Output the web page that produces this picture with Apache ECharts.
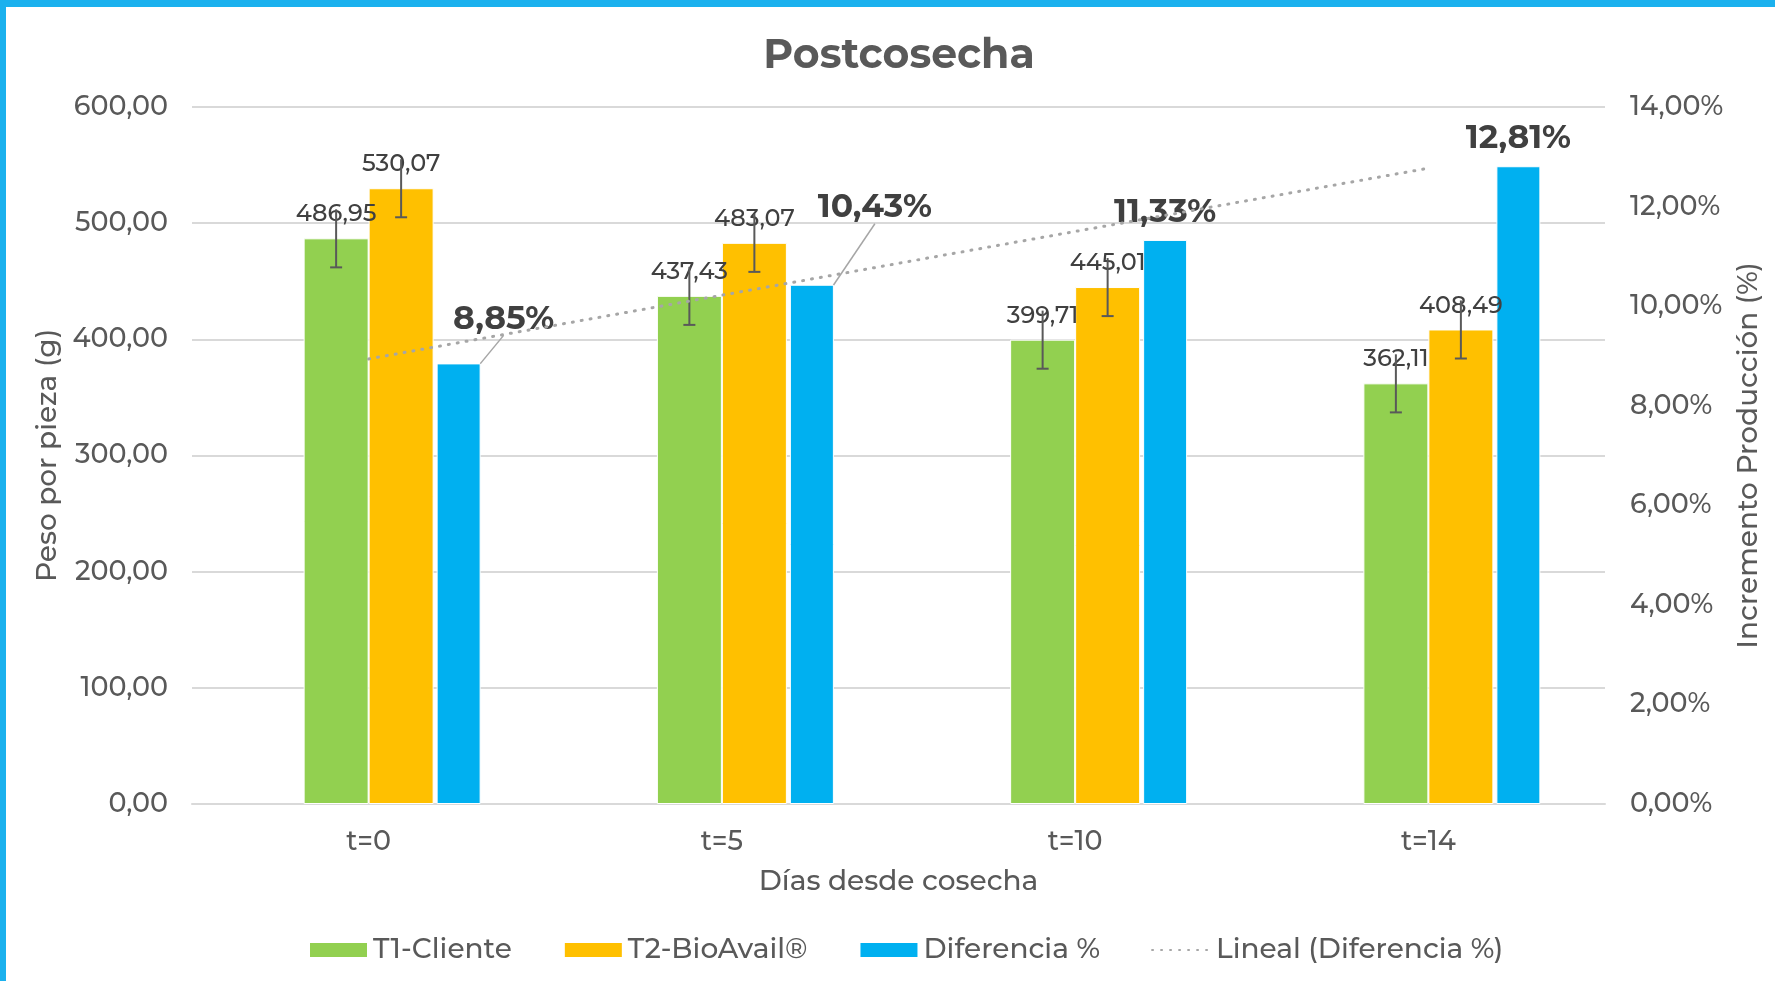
<!DOCTYPE html>
<html>
<head>
<meta charset="utf-8">
<title>Postcosecha</title>
<script src="https://cdn.jsdelivr.net/npm/echarts@6/dist/echarts.min.js"></script>
<style>
  html, body { margin: 0; padding: 0; background: #fff; }
  #wrap { position: relative; width: 1775px; height: 981px; overflow: hidden; }
  #chart { position: absolute; left: 0; top: 0; width: 1775px; height: 981px; }
  .edge { position: absolute; background: #1BB1EE; }
</style>
</head>
<body>
<div id="wrap">
  <div id="chart"></div>
  <div class="edge" style="left:0;top:0;width:1775px;height:7px"></div>
  <div class="edge" style="left:0;top:0;width:6px;height:981px"></div>
</div>
<script>
// datos
var dias = ["t=0", "t=5", "t=10", "t=14"];
var t1Cliente = [486.95, 437.43, 399.71, 362.11];
var t2BioAvail = [530.07, 483.07, 445.01, 408.49];
var diferencia = [8.85, 10.43, 11.33, 12.81];
var lineal = [8.94, 10.22, 11.50, 12.77];
var errT1 = [25, 25, 25, 25];
var errT2 = [25, 25, 25, 25];

// desplazamiento de las etiquetas de diferencia (px) y si llevan linea guia
var difLabelDx = [45, 63, 0, 0];
var difLabelDy = [-23, -56, -6, -6];
var difLabelGuia = [true, true, false, false];

var fuente = 'Montserrat, "Open Sans", sans-serif';
var gris = '#595959';
var texto = '#404040';
var peso = 500;

function coma(v) {
  return v.toFixed(2).replace('.', ',');
}

function errorBar(offset) {
  return function (params, api) {
    var i = api.value(0);
    var v = api.value(1);
    var e = api.value(2);
    var top = api.coord([i, v + e]);
    var bot = api.coord([i, v - e]);
    var x = top[0] + offset;
    var st = { stroke: gris, lineWidth: 2 };
    return {
      type: 'group',
      children: [
        { type: 'line', shape: { x1: x, y1: top[1], x2: x, y2: bot[1] }, style: st },
        { type: 'line', shape: { x1: x - 6, y1: bot[1], x2: x + 6, y2: bot[1] }, style: st }
      ]
    };
  };
}

var chart = echarts.init(document.getElementById('chart'));

chart.setOption({
  animation: false,
  textStyle: { fontFamily: fuente },
  title: {
    text: 'Postcosecha',
    left: 894,
    textAlign: 'center',
    top: 30,
    textStyle: { fontSize: 41, fontWeight: 'bold', color: gris, fontFamily: fuente }
  },
  legend: {
    bottom: 12,
    left: 303,
    itemWidth: 59,
    itemHeight: 16,
    itemGap: 51,
    textStyle: { fontSize: 28, fontWeight: peso, color: gris, fontFamily: fuente },
    data: [
      { name: 'T1-Cliente', icon: 'rect' },
      { name: 'T2-BioAvail®', icon: 'rect' },
      { name: 'Diferencia %', icon: 'rect' },
      { name: 'Lineal (Diferencia %)', itemStyle: { opacity: 0 } }
    ]
  },
  grid: [
    { left: 192, right: 170, top: 107, bottom: 177 },
    { left: 282, right: 80, top: 107, bottom: 177 }
  ],
  xAxis: [
    {
      type: 'category',
      gridIndex: 0,
      data: dias,
      name: 'Días desde cosecha',
      nameLocation: 'middle',
      nameGap: 64,
      nameTextStyle: { fontSize: 28, fontWeight: peso, color: gris },
      axisLine: { lineStyle: { color: '#D9D9D9', width: 2 } },
      axisTick: { show: false },
      axisLabel: { fontSize: 27, fontWeight: peso, color: gris, margin: 25 }
    },
    {
      type: 'category',
      gridIndex: 1,
      data: dias,
      show: false
    }
  ],
  yAxis: [
    {
      type: 'value',
      gridIndex: 0,
      min: 0,
      max: 600,
      interval: 100,
      name: 'Peso por pieza (g)',
      nameLocation: 'middle',
      nameGap: 117,
      nameTextStyle: { fontSize: 28, fontWeight: peso, color: gris },
      axisLabel: { fontSize: 27, fontWeight: peso, color: gris, margin: 24, formatter: function (v) { return coma(v); } },
      splitLine: { lineStyle: { color: '#D9D9D9', width: 2 } },
      axisLine: { show: false },
      axisTick: { show: false }
    },
    {
      type: 'value',
      gridIndex: 0,
      position: 'right',
      min: 0,
      max: 14,
      interval: 2,
      name: 'Incremento Producción (%)',
      nameLocation: 'middle',
      nameGap: 130,
      nameRotate: 90,
      nameTextStyle: { fontSize: 28, fontWeight: peso, color: gris },
      axisLabel: { fontSize: 27, fontWeight: peso, color: gris, margin: 25, formatter: function (v) { return coma(v) + '%'; } },
      splitLine: { show: false },
      axisLine: { show: false },
      axisTick: { show: false }
    },
    {
      type: 'value',
      gridIndex: 1,
      min: 0,
      max: 14,
      interval: 2,
      show: false,
      splitLine: { show: false }
    }
  ],
  series: [
    {
      name: 'T1-Cliente',
      type: 'bar',
      xAxisIndex: 0,
      yAxisIndex: 0,
      barWidth: 65,
      barGap: '0%',
      itemStyle: { color: '#92D050', borderColor: '#fff', borderWidth: 1 },
      label: {
        show: true,
        position: 'top',
        distance: 12,
        fontSize: 24,
        fontWeight: peso,
        color: texto,
        formatter: function (p) { return coma(p.value); }
      },
      z: 2,
      data: t1Cliente
    },
    {
      name: 'T2-BioAvail®',
      type: 'bar',
      xAxisIndex: 0,
      yAxisIndex: 0,
      barWidth: 65,
      barGap: '0%',
      itemStyle: { color: '#FFC000', borderColor: '#fff', borderWidth: 1 },
      label: {
        show: true,
        position: 'top',
        distance: 12,
        fontSize: 24,
        fontWeight: peso,
        color: texto,
        formatter: function (p) { return coma(p.value); }
      },
      z: 2,
      data: t2BioAvail
    },
    {
      name: 'err T1',
      type: 'custom',
      xAxisIndex: 0,
      yAxisIndex: 0,
      renderItem: errorBar(-32.5),
      z: 3,
      silent: true,
      data: t1Cliente.map(function (v, i) { return [i, v, errT1[i]]; })
    },
    {
      name: 'err T2',
      type: 'custom',
      xAxisIndex: 0,
      yAxisIndex: 0,
      renderItem: errorBar(32.5),
      z: 3,
      silent: true,
      data: t2BioAvail.map(function (v, i) { return [i, v, errT2[i]]; })
    },
    {
      name: 'Diferencia %',
      type: 'bar',
      xAxisIndex: 1,
      yAxisIndex: 2,
      barWidth: 44,
      itemStyle: { color: '#00B0F0', borderColor: '#fff', borderWidth: 1 },
      label: {
        show: true,
        position: 'top',
        distance: 5,
        fontSize: 33,
        fontWeight: 'bold',
        color: texto,
        formatter: function (p) { return coma(p.value) + '%'; }
      },
      labelLine: { show: true, lineStyle: { color: '#A6A6A6', width: 1.5 } },
      labelLayout: function (p) {
        return { dx: difLabelDx[p.dataIndex], dy: difLabelDy[p.dataIndex] };
      },
      z: 2,
      data: diferencia.map(function (v, i) {
        return { value: v, labelLine: { show: difLabelGuia[i] } };
      })
    },
    {
      name: 'Lineal (Diferencia %)',
      type: 'line',
      xAxisIndex: 0,
      yAxisIndex: 1,
      symbol: 'none',
      lineStyle: { color: '#A6A6A6', width: 3, type: [1, 8], cap: 'round' },
      itemStyle: { color: '#A6A6A6' },
      z: 4,
      data: lineal
    }
  ]
});
</script>
</body>
</html>
